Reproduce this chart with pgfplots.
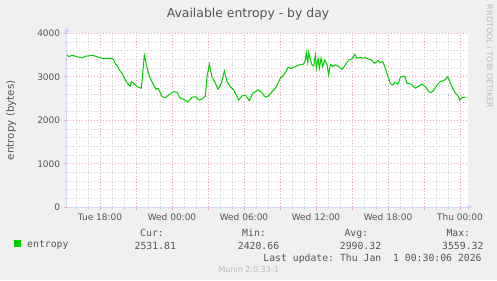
\documentclass[border=0pt]{standalone}
\usepackage{fontspec}
\setmainfont{DejaVu Sans}
\setmonofont{DejaVu Sans Mono}
\usepackage{pgfplots}
\pgfplotsset{compat=1.18}
\usetikzlibrary{arrows.meta}
\definecolor{bgcol}{HTML}{F0F0F0}
\definecolor{axiscol}{HTML}{CFD6F8}
\definecolor{fontcol}{HTML}{555555}
\definecolor{gridcol}{HTML}{D0D0D0}
\definecolor{mgridcol}{HTML}{EBA8A8}
\definecolor{linegreen}{HTML}{00CC00}
\definecolor{markcol}{HTML}{B8B8B8}
\newcommand{\tickfont}{\fontsize{9bp}{10bp}\selectfont}
\newcommand{\legfont}{\fontsize{9.8bp}{11bp}\selectfont\ttfamily}
\begin{document}
\begin{tikzpicture}[x=1bp,y=1bp]
\fill[bgcol] (0,0) rectangle (497,280);
\begin{axis}[
  at={(66.7bp,72.7bp)}, anchor=south west,
  scale only axis, width=401bp, height=174bp,
  xmin=-8.775, xmax=24.64, ymin=0, ymax=4000,
  axis background/.style={fill=white},
  axis lines*=left,
  axis line style={draw=axiscol, line width=1bp},
  x axis line style={-{Triangle[length=5bp,width=5bp]}, shorten >=-5bp},
  y axis line style={-{Triangle[length=5bp,width=5bp]}, shorten >=-6bp},
  xtick={-6,-3,0,3,6,9,12,15,18,21,24},
  xticklabels={Tue 18:00,,Wed 00:00,,Wed 06:00,,Wed 12:00,,Wed 18:00,,Thu 00:00},
  minor xtick={-8,-7,-5,-4,-2,-1,1,2,4,5,7,8,10,11,13,14,16,17,19,20,22,23},
  ytick={0,1000,2000,3000,4000},
  yticklabels={0,1000,2000,3000,4000},
  minor ytick={200,400,600,800,1200,1400,1600,1800,2200,2400,2600,2800,3200,3400,3600,3800},
  grid=both,
  major grid style={draw=mgridcol, dash pattern=on 1bp off 2bp, line width=0.9bp},
  minor grid style={draw=gridcol, dash pattern=on 1bp off 2bp, line width=0.9bp},
  tick align=outside,
  major tick length=3bp, minor tick length=2bp,
  major tick style={draw=mgridcol, line width=0.8bp},
  minor tick style={draw=gridcol, line width=0.8bp},
  ticklabel style={font=\tickfont, text=fontcol},
  ylabel={entropy (bytes)},
  ylabel style={at={(axis description cs:-0.139,0.5)}, anchor=center, font=\fontsize{10.3bp}{11bp}\selectfont, text=fontcol},
  legend style={at={(axis description cs:-0.1314,-0.2138)}, anchor=west, draw=none, fill=none, inner sep=0pt, outer sep=0pt, font=\legfont, text=fontcol, nodes={inner sep=0pt}},
  legend image code/.code={\fill[linegreen] (0bp,-1bp) rectangle (6bp,5bp); \path (12.2bp,0bp);},
]
\addplot[linegreen, line width=1bp] coordinates {
(-8.75,3503) (-8.61,3463) (-8.33,3495) (-7.92,3463) (-7.50,3433) (-7.22,3472)
(-6.67,3495) (-6.25,3463) (-5.97,3433) (-5.56,3417) (-5.00,3426) (-4.86,3387)
(-4.72,3295) (-4.58,3265) (-4.39,3157) (-4.17,3081) (-3.89,2927) (-3.61,2812)
(-3.47,2789) (-3.39,2888) (-3.19,2851) (-2.92,2773) (-2.56,2736) (-2.44,3081)
(-2.31,3502) (-2.22,3387) (-2.00,3118) (-1.81,2966) (-1.53,2812) (-1.33,2713)
(-1.17,2736) (-0.97,2635) (-0.83,2543) (-0.56,2520) (-0.28,2582) (0.14,2658)
(0.42,2644) (0.69,2506) (0.97,2483) (1.33,2421) (1.67,2529) (1.94,2543)
(2.28,2467) (2.50,2490) (2.78,2559) (2.92,3003) (3.11,3288) (3.33,3003)
(3.56,2888) (3.83,2713) (4.11,2851) (4.36,3134) (4.58,2888) (4.86,2773)
(5.14,2697) (5.56,2467) (5.83,2559) (6.11,2582) (6.44,2451) (6.72,2621)
(7.17,2697) (7.44,2650) (7.78,2529) (8.06,2559) (8.33,2658) (8.61,2736)
(8.83,2851) (9.03,2966) (9.31,3042) (9.50,3118) (9.67,3219) (9.94,3196)
(10.28,3234) (10.56,3272) (10.97,3295) (11.11,3387) (11.19,3555) (11.31,3325)
(11.39,3559) (11.50,3426) (11.67,3272) (11.81,3249) (11.94,3502) (12.03,3196)
(12.17,3426) (12.28,3196) (12.42,3426) (12.56,3234) (12.72,3387) (12.92,3272)
(13.06,3042) (13.19,3288) (13.39,3234) (13.61,3272) (13.89,3234) (14.17,3173)
(14.44,3272) (14.72,3387) (15.00,3410) (15.22,3518) (15.42,3426) (15.69,3449)
(15.97,3426) (16.11,3440) (16.39,3403) (16.61,3387) (16.89,3311) (17.17,3372)
(17.36,3325) (17.56,3348) (17.78,3196) (18.00,3003) (18.19,2851) (18.39,2812)
(18.56,2866) (18.83,2835) (19.03,2989) (19.31,3019) (19.44,2989) (19.58,2851)
(19.94,2828) (20.28,2736) (20.56,2789) (20.83,2828) (21.11,2773) (21.39,2658)
(21.58,2635) (21.83,2697) (22.08,2812) (22.36,2888) (22.72,2927) (22.97,3003)
(23.11,2911) (23.33,2773) (23.61,2621) (23.83,2559) (23.97,2467) (24.17,2520)
(24.44,2532)
};
\addlegendentry{entropy}
\end{axis}
\node[anchor=base, font=\fontsize{12.4bp}{13bp}\selectfont, text=fontcol] at (248,262.3) {Available entropy - by day};
\begin{scope}[every node/.style={anchor=base, font=\legfont, text=fontcol, inner sep=0pt}]
\node at (152,43.3) {Cur:};
\node at (254,43.3) {Min:};
\node at (356.3,43.3) {Avg:};
\node at (458.3,43.3) {Max:};
\node at (155.3,31) {2531.81};
\node at (258.5,31) {2420.66};
\node at (360.5,31) {2990.32};
\node at (462.8,31) {3559.32};
\node at (372.5,19) {Last update:\ Thu Jan\ \ 1 00:30:06 2026};
\end{scope}
\node[anchor=base, inner sep=0pt, font=\fontsize{8bp}{9bp}\selectfont, text=markcol] at (248.7,7.3) {Munin 2.0.33-1};
\node[rotate=-90, inner sep=0pt, font=\fontsize{8bp}{9bp}\selectfont, text=markcol] at (489.5,223.5) {RRDTOOL / TOBI OETIKER};
\end{tikzpicture}
\end{document}
